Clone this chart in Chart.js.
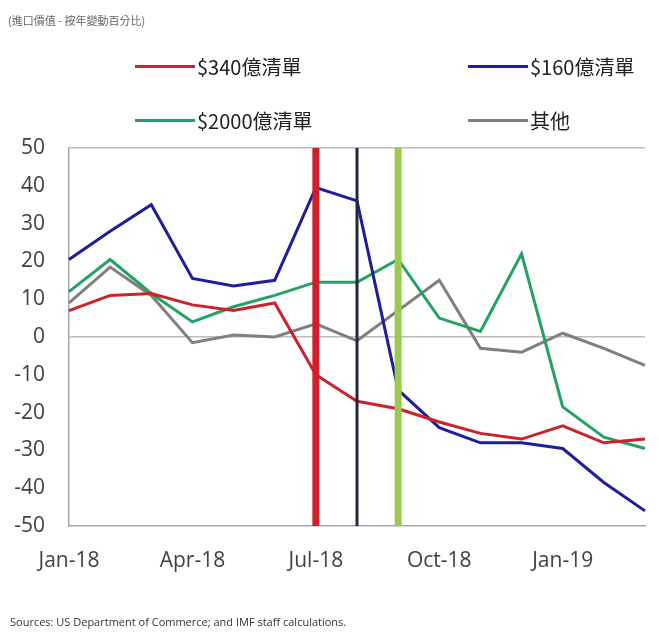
<!DOCTYPE html>
<html>
<head>
<meta charset="utf-8">
<script src="https://cdn.jsdelivr.net/npm/chart.js@4"></script>
<style>
  html, body { margin: 0; padding: 0; background: #fff; }
  #wrap { position: relative; width: 659px; height: 632px; }
  #sub { position: absolute; left: 8px; top: 12px; font: 11px "Noto Sans CJK TC", sans-serif; color: #666; }
  #src { position: absolute; left: 10px; top: 614px; font: 11px "Open Sans", sans-serif; color: #333; }
  #legend { position: absolute; left: 135px; top: 52px; display: grid; grid-template-columns: 333px auto; row-gap: 25px; }
  .item { display: flex; align-items: center; font: 20px "Noto Sans CJK TC", sans-serif; color: #222; height: 29px; }
  .item i { display: inline-block; width: 60px; height: 3px; margin-right: 2px; }
</style>
</head>
<body>
<div id="wrap">
  <canvas id="chart" width="659" height="632"></canvas>
  <div id="sub">(進口價值 - 按年變動百分比)</div>
  <div id="legend"></div>
  <div id="src">Sources: US Department of Commerce; and IMF staff calculations.</div>
</div>
<script>
var months = ['Jan-18', 'Feb-18', 'Mar-18', 'Apr-18', 'May-18', 'Jun-18', 'Jul-18', 'Aug-18',
  'Sep-18', 'Oct-18', 'Nov-18', 'Dec-18', 'Jan-19', 'Feb-19', 'Mar-19'];
var list34 = [7, 11, 11.5, 8.5, 7, 9, -10, -17, -19, -22.5, -25.5, -27, -23.5, -28, -27];
var list16 = [20.5, 28, 35, 15.5, 13.5, 15, 39.5, 36, -14, -24, -28, -28, -29.5, -38.5, -46];
var list200 = [12, 20.5, 11.5, 4, 8, 11, 14.5, 14.5, 20.5, 5, 1.5, 22, -18.5, -26.5, -29.5];
var others = [9, 18.5, 11, -1.5, 0.5, 0, 3.5, -1, 7, 15, -3, -4, 1, -3, -7.5];
var seriesNames = ['$340億清單', '$160億清單', '$2000億清單', '其他'];
var seriesColors = ['#cc2229', '#1e1e9c', '#23a264', '#808080'];
// months when each tariff list took effect
var tariffMonths = ['Jul-18', 'Aug-18', 'Sep-18'];
var tariffColors = ['#cf1f27', '#1f2940', '#9cc94e'];
var tariffWidths = [7, 3, 7];

var datasets = [list34, list16, list200, others].map(function (d, i) {
  return {
    label: seriesNames[i], data: d, borderColor: seriesColors[i], backgroundColor: seriesColors[i],
    borderWidth: 3, pointRadius: 0, tension: 0, order: 2
  };
});
tariffMonths.forEach(function (m, i) {
  datasets.push({
    label: '', data: [{ x: m, y: -50 }, { x: m, y: 50 }], borderColor: tariffColors[i],
    borderWidth: tariffWidths[i], pointRadius: 0, order: 1, borderCapStyle: 'butt'
  });
});

var legend = document.getElementById('legend');
seriesNames.forEach(function (n, i) {
  var el = document.createElement('div');
  el.className = 'item';
  el.innerHTML = '<i style="background:' + seriesColors[i] + '"></i>' + n;
  legend.appendChild(el);
});

new Chart(document.getElementById('chart').getContext('2d'), {
  type: 'line',
  data: { labels: months, datasets: datasets },
  options: {
    responsive: false,
    animation: false,
    layout: { padding: { left: 0, right: 7, top: 148, bottom: 56 } },
    plugins: { legend: { display: false }, tooltip: { enabled: false } },
    scales: {
      x: {
        offset: false,
        afterFit: function (s) { s.height = 50; },
        grid: { display: false },
        border: { display: true, color: '#a6a6a6', width: 1.5 },
        ticks: {
          autoSkip: false, maxRotation: 0, padding: 14, color: '#404040',
          font: { family: 'Open Sans', size: 21 },
          callback: function (v, i) { return i % 3 === 0 && i < 14 ? months[i] : ''; }
        }
      },
      y: {
        min: -50, max: 50,
        afterFit: function (s) { s.width = 69; },
        grid: {
          drawTicks: false, lineWidth: 1.5,
          color: function (c) { return (c.tick.value === 0 || c.tick.value === 50) ? '#bdbdbd' : 'rgba(0,0,0,0)'; }
        },
        border: { display: true, color: '#a6a6a6', width: 1.5 },
        ticks: { stepSize: 10, padding: 24, color: '#404040', font: { family: 'Open Sans', size: 21 } }
      }
    }
  }
});
</script>
</body>
</html>
